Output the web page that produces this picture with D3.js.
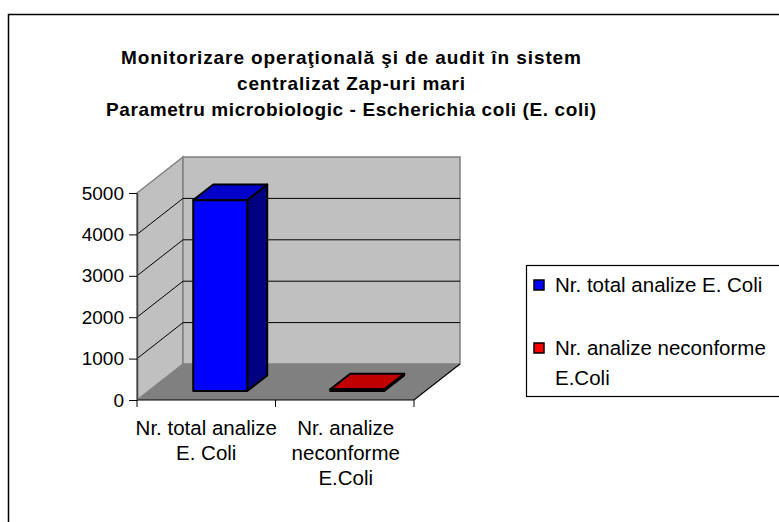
<!DOCTYPE html>
<html><head><meta charset="utf-8">
<script src="https://cdn.jsdelivr.net/npm/d3@7"></script>
<style>body{margin:0;background:#fff}svg{display:block;font-family:"Liberation Sans",Arial,sans-serif}</style>
</head><body><svg id="c" width="779" height="522"></svg>
<script>
const categories = ["Nr. total analize E. Coli", "Nr. analize neconforme E.Coli"];
const categoryLines = [["Nr. total analize", "E. Coli"], ["Nr. analize", "neconforme", "E.Coli"]];
const values = [4610, 40];
const seriesNames = ["Nr. total analize E. Coli", "Nr. analize neconforme E.Coli"];
const legendLines = [["Nr. total analize E. Coli"], ["Nr. analize neconforme", "E.Coli"]];
const colors = [{front:"#0000ff", top:"#0000c8", side:"#000080"}, {front:"#ff0000", top:"#c00000", side:"#800000"}];
const yTicks = [0, 1000, 2000, 3000, 4000, 5000];
const titleLines = ["Monitorizare operaţională şi de audit în sistem", "centralizat  Zap-uri mari", "Parametru  microbiologic - Escherichia coli (E. coli)"];
const titleWidths = [460, 228, 490];

const svg = d3.select("#c");
svg.append("rect").attr("x",8.5).attr("y",14.5).attr("width",900).attr("height",700)
  .attr("fill","#fff").attr("stroke","#000").attr("stroke-width",1.5);

// geometry
const X0 = 137, X1 = 414, DX = 46, DY = -36;
const y = d3.scaleLinear().domain([0,5000]).range([400,193]);
const x = d3.scaleBand().domain(categories).range([X0,X1]).paddingInner(0.606).paddingOuter(0.314).align(0.52);
const P = (px, v, d) => [px + DX*d, y(v) + DY*d];
const poly = pts => "M" + pts.map(p => p.join(",")).join("L") + "Z";

const g = svg.append("g");
// walls
g.append("path").attr("d", poly([P(X0,0,0),P(X0,5000,0),P(X0,5000,1),P(X0,0,1)]))
  .attr("fill","#c0c0c0").attr("stroke","#808080").attr("stroke-width",1.5);
g.append("path").attr("d", poly([P(X0,0,1),P(X0,5000,1),P(X1,5000,1),P(X1,0,1)]))
  .attr("fill","#c0c0c0").attr("stroke","#808080").attr("stroke-width",1.5);
g.append("path").attr("d", poly([P(X0,0,0),P(X1,0,0),P(X1,0,1),P(X0,0,1)]))
  .attr("fill","#808080").attr("stroke","none");
// gridlines
yTicks.filter(v => v>0 && v<5000).forEach(v => {
  g.append("path").attr("d", "M"+P(X0,v,0)+"L"+P(X0,v,1)+"L"+P(X1,v,1))
    .attr("fill","none").attr("stroke","#000").attr("stroke-width",1);
});
// floor edges
g.append("path").attr("d","M"+P(X0,0,0)+"L"+P(X1,0,0)+"L"+P(X1,0,1))
  .attr("fill","none").attr("stroke","#000").attr("stroke-width",1.2);

// y axis
const ya = svg.append("g").attr("transform",`translate(${X0},0)`)
  .call(d3.axisLeft(y).tickValues(yTicks).tickSize(8).tickSizeOuter(0).tickPadding(5).tickFormat(d3.format("d")));
ya.select(".domain").attr("stroke","#404040").attr("stroke-width",1.5);
ya.selectAll(".tick line").attr("stroke","#000");
ya.selectAll("text").attr("font-size",19).attr("fill","#000").attr("font-family","Liberation Sans, Arial, sans-serif");

// x axis ticks at boundaries
const bounds = [X0, (X0+X1)/2, X1];
bounds.forEach(b => g.append("line").attr("x1",b).attr("x2",b).attr("y1",400).attr("y2",407).attr("stroke","#000"));
const centers = categories.map((c,i) => X0 + (X1-X0)/2*(i+0.5));
categories.forEach((c,i) => {
  const t = svg.append("text").attr("text-anchor","middle").attr("font-size",20.5).attr("fill","#000");
  categoryLines[i].forEach((ln,j) => t.append("tspan").attr("x",centers[i]+(i===1?1:0)).attr("y",435+25*j).text(ln));
});

// bars
const D0 = 0.25, D1 = 0.685;
categories.forEach((c,i) => {
  const v = values[i], xl = x(c), xr = x(c)+x.bandwidth(), col = colors[i];
  const bg = svg.append("g").attr("stroke","#000").attr("stroke-width",2).attr("stroke-linejoin","round");
  bg.append("path").attr("d", poly([P(xr,0,D0),P(xr,v,D0),P(xr,v,D1),P(xr,0,D1)])).attr("fill",col.side);
  bg.append("path").attr("d", poly([P(xl,v,D0),P(xr,v,D0),P(xr,v,D1),P(xl,v,D1)])).attr("fill",col.top);
  bg.append("path").attr("d", poly([P(xl,0,D0),P(xl,v,D0),P(xr,v,D0),P(xr,0,D0)])).attr("fill",col.front);
});

// title
titleLines.forEach((ln,j) => svg.append("text").attr("text-anchor","middle").attr("font-size",19)
  .attr("font-weight","bold").attr("fill","#000").attr("x",351).attr("y",64+26*j)
  .attr("textLength",titleWidths[j]).attr("lengthAdjust","spacing").text(ln));

// legend
svg.append("rect").attr("x",526.5).attr("y",265.5).attr("width",300).attr("height",131)
  .attr("fill","#fff").attr("stroke","#000").attr("stroke-width",1.2);
const legY = [285, 348];
seriesNames.forEach((s,i) => {
  svg.append("rect").attr("x",534).attr("y",legY[i]-5).attr("width",10).attr("height",10)
    .attr("fill",colors[i].front).attr("stroke","#000").attr("stroke-width",1.5);
  const t = svg.append("text").attr("font-size",20.5).attr("fill","#000");
  legendLines[i].forEach((ln,j) => t.append("tspan").attr("x",555).attr("y",legY[i]+7+30*j).text(ln));
});
</script></body></html>
